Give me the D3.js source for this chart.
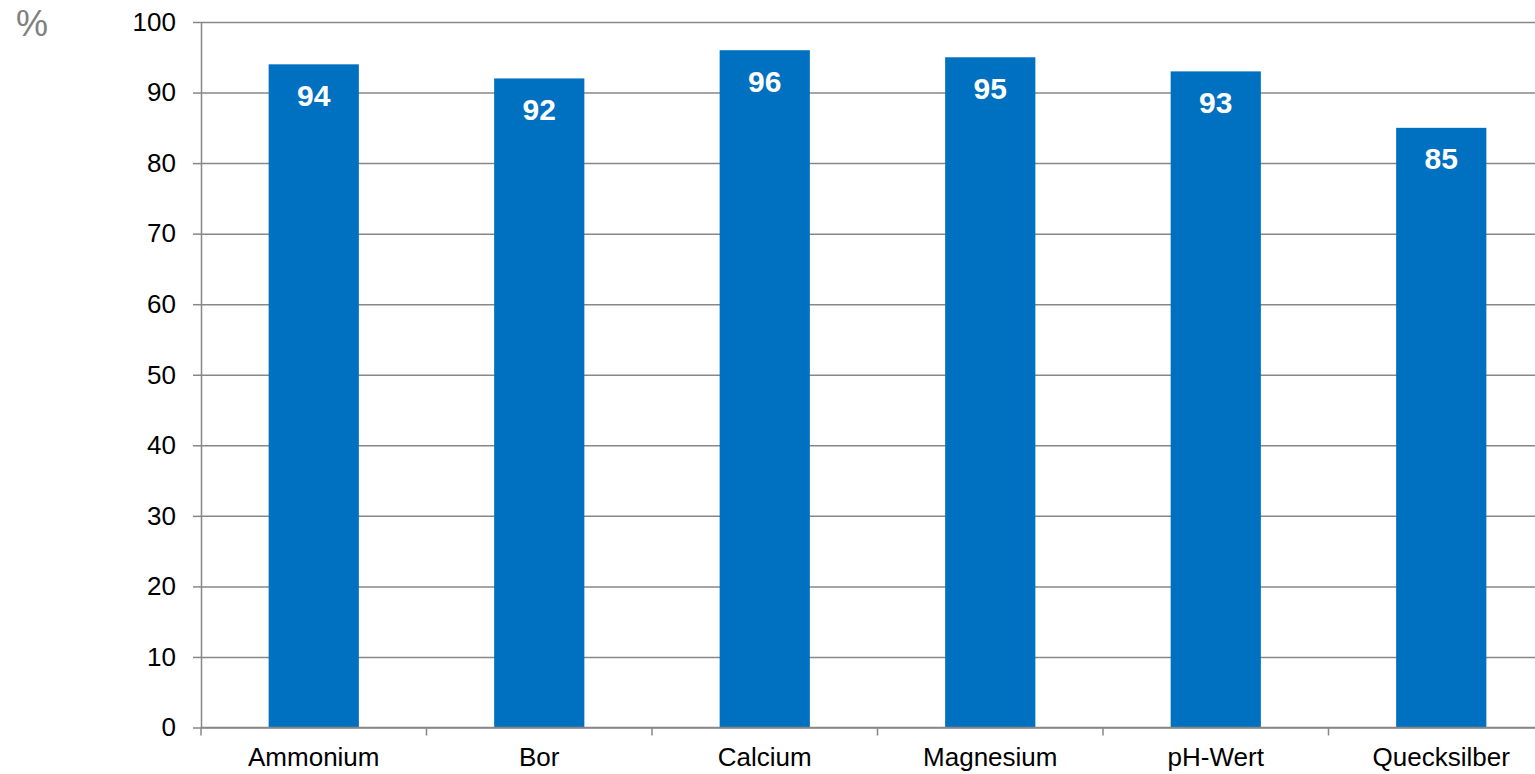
<!DOCTYPE html>
<html>
<head>
<meta charset="utf-8">
<script src="https://cdn.jsdelivr.net/npm/d3@7"></script>
<style>
  html, body { margin: 0; padding: 0; background: #fff; overflow: hidden; }
  svg { display: block; font-family: "Liberation Sans", Arial, sans-serif; }
</style>
</head>
<body>
<svg id="chart" width="1535" height="774"></svg>
<script>
// Werte ablesen aus der Vorlage
const categories = ['Ammonium', 'Bor', 'Calcium', 'Magnesium', 'pH-Wert', 'Quecksilber'];
const values = [94, 92, 96, 95, 93, 85];
const yTicks = [0, 10, 20, 30, 40, 50, 60, 70, 80, 90, 100];
const unitLabel = '%';

const plotL = 201, plotT = 22, plotB = 727.5, plotR = 1554;
const axisCol = '#878787', barCol = '#0070c0';

const svg = d3.select('#chart');

const x = d3.scaleBand().domain(categories).range([plotL, plotR]).paddingInner(0.6).paddingOuter(0.3);
const y = d3.scaleLinear().domain([0, 100]).range([plotB, plotT]);

// gridlines
const grid = svg.append('g').attr('transform', `translate(${plotL},0)`)
  .call(d3.axisLeft(y).tickValues(yTicks).tickSize(-(plotR - plotL)).tickFormat(''));
grid.select('.domain').remove();
grid.selectAll('line').attr('stroke', axisCol).attr('stroke-width', 1.5);

// bars
svg.append('g').selectAll('rect').data(categories).enter().append('rect')
  .attr('x', d => x(d)).attr('width', x.bandwidth())
  .attr('y', (d, i) => y(values[i])).attr('height', (d, i) => y(0) - y(values[i]))
  .attr('fill', barCol);

// value labels
svg.append('g').selectAll('text').data(categories).enter().append('text')
  .attr('x', d => x(d) + x.bandwidth() / 2).attr('y', (d, i) => y(values[i]) + 41.5)
  .attr('text-anchor', 'middle').attr('fill', '#fff').attr('font-size', '30px').attr('font-weight', 'bold')
  .text((d, i) => values[i]);

// y axis
const yAx = svg.append('g').attr('transform', `translate(${plotL},0)`)
  .call(d3.axisLeft(y).tickValues(yTicks).tickSize(8).tickSizeOuter(0).tickPadding(17));
yAx.select('.domain').attr('stroke', axisCol).attr('stroke-width', 1.5);
yAx.selectAll('line').attr('stroke', axisCol).attr('stroke-width', 1.5);
yAx.selectAll('text').attr('font-size', '26px').attr('fill', '#000').attr('font-family', null);

// x axis: baseline + boundary ticks
svg.append('line').attr('x1', plotL).attr('x2', plotR).attr('y1', y(0)).attr('y2', y(0))
  .attr('stroke', axisCol).attr('stroke-width', 1.5);
svg.append('g').selectAll('line').data(d3.range(categories.length + 1)).enter().append('line')
  .attr('x1', i => plotL + i * x.step()).attr('x2', i => plotL + i * x.step())
  .attr('y1', y(0)).attr('y2', y(0) + 8)
  .attr('stroke', axisCol).attr('stroke-width', 1.5);
const xAx = svg.append('g').attr('transform', `translate(0,${plotB})`)
  .call(d3.axisBottom(x).tickSize(0).tickPadding(20));
xAx.select('.domain').remove();
xAx.selectAll('text').attr('font-size', '26px').attr('fill', '#000').attr('font-family', null);

// unit label
svg.append('text').attr('x', 16).attr('y', 36).attr('font-size', '36px').attr('fill', '#808080').text(unitLabel);
</script>
</body>
</html>
